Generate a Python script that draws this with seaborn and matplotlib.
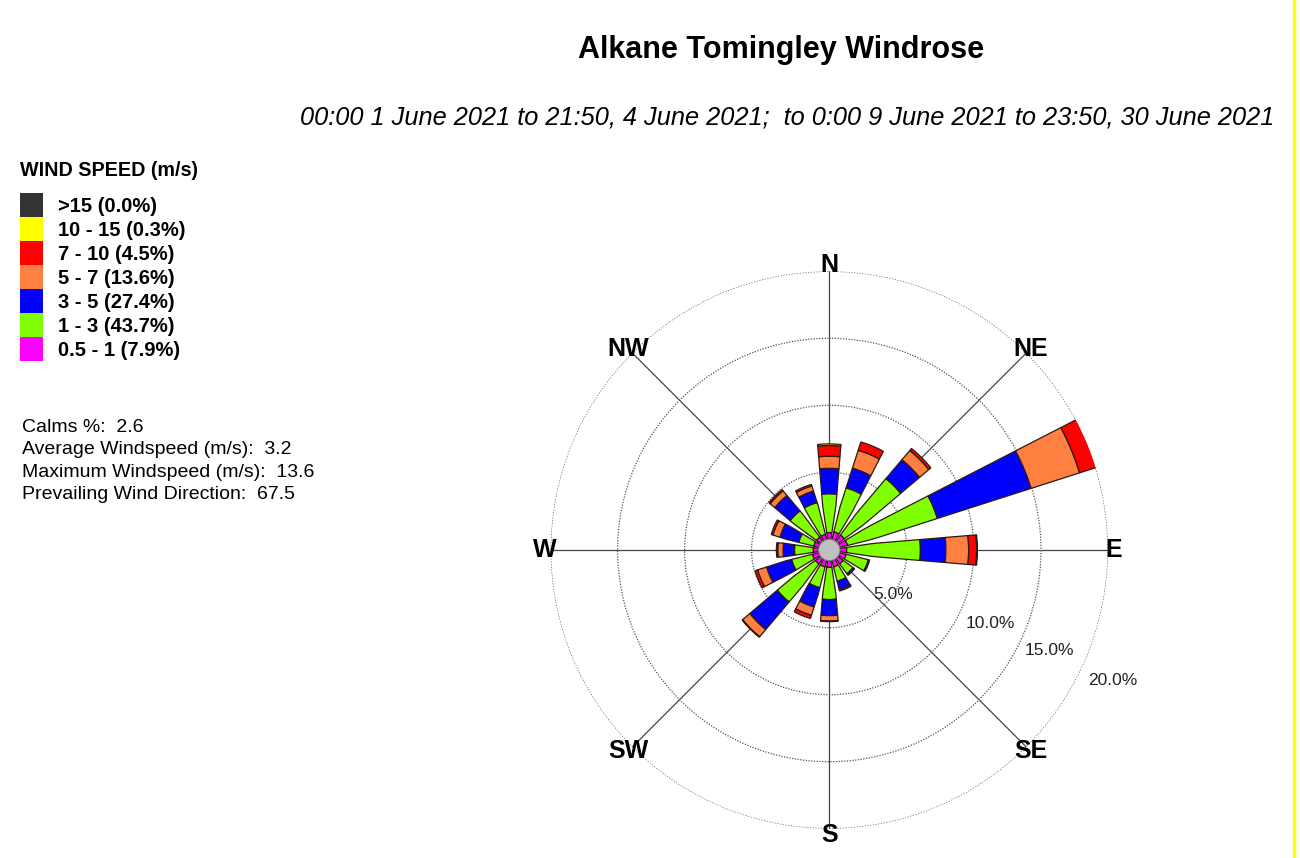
import numpy as np
import matplotlib
matplotlib.use("Agg")
import matplotlib.pyplot as plt
from matplotlib.patches import Patch, Circle
from matplotlib.lines import Line2D
import seaborn as sns

# Datos de la rosa de vientos (porcentaje de tiempo por dirección y rango de velocidad)
directions = ['N', 'NNE', 'NE', 'ENE', 'E', 'ESE', 'SE', 'SSE',
              'S', 'SSW', 'SW', 'WSW', 'W', 'WNW', 'NW', 'NNW']

spd_05_1 = [0.5, 0.6, 0.6, 0.6, 0.5, 0.5, 0.5, 0.5, 0.5, 0.5, 0.5, 0.5, 0.4, 0.4, 0.4, 0.4]
spd_1_3 = [2.9, 3.4, 5.4, 7.0, 5.5, 1.7, 0.9, 1.1, 2.4, 1.6, 3.6, 1.6, 1.4, 1.15, 2.45, 2.45]
spd_3_5 = [1.9, 1.55, 1.85, 7.35, 1.9, 0.1, 0.15, 0.65, 1.2, 1.5, 2.7, 1.95, 0.85, 1.45, 1.5, 0.9]
spd_5_7 = [0.9, 1.4, 0.9, 3.8, 1.7, 0.0, 0.0, 0.1, 0.4, 0.65, 0.7, 0.7, 0.4, 0.55, 0.45, 0.4]
spd_7_10 = [0.8, 0.65, 0.2, 1.6, 0.6, 0.0, 0.0, 0.0, 0.05, 0.25, 0.05, 0.2, 0.1, 0.13, 0.12, 0.12]
spd_10_15 = [0.12, 0.0, 0.0, 0.1, 0.05, 0.0, 0.0, 0.0, 0.0, 0.0, 0.0, 0.0, 0.0, 0.0, 0.0, 0.0]
spd_15 = [0.0] * 16

bins = ['0.5 - 1', '1 - 3', '3 - 5', '5 - 7', '7 - 10', '10 - 15', '>15']
bin_pct = [7.9, 43.7, 27.4, 13.6, 4.5, 0.3, 0.0]
bin_colors = ['#FF00FF', '#80FF00', '#0000FF', '#FF8040', '#FF0000', '#FFFF00', '#333333']
series = [spd_05_1, spd_1_3, spd_3_5, spd_5_7, spd_7_10, spd_10_15, spd_15]

ring_vals = [5, 10, 15, 20]
compass = ['N', 'NE', 'E', 'SE', 'S', 'SW', 'W', 'NW']

stats_lines = ['Calms %:  2.6',
               'Average Windspeed (m/s):  3.2',
               'Maximum Windspeed (m/s):  13.6',
               'Prevailing Wind Direction:  67.5']

title = 'Alkane Tomingley Windrose'
subtitle = '00:00 1 June 2021 to 21:50, 4 June 2021;  to 0:00 9 June 2021 to 23:50, 30 June 2021'

sns.set_theme(style='white')
plt.rcParams['font.family'] = ['Liberation Sans', 'DejaVu Sans']
plt.rcParams['text.color'] = 'black'

W, H = 1300, 858
fig = plt.figure(figsize=(W / 100, H / 100), dpi=100)
fig.patch.set_facecolor('white')

# Geometría del gráfico polar (en pixeles)
cx, cy = 829.3, 550
offset = 0.8
rmax = 20
r_px = 278.7
k = r_px / (rmax + offset)  # pixeles por punto porcentual

ax = fig.add_axes([(cx - r_px) / W, (H - cy - r_px) / H, 2 * r_px / W, 2 * r_px / H],
                  projection='polar')
ax.set_theta_zero_location('N')
ax.set_theta_direction(-1)
ax.set_ylim(-offset, rmax)
ax.set_yticks(ring_vals)
ax.set_yticklabels([])
ax.set_xticks(np.deg2rad(np.arange(0, 360, 45)))
ax.set_xticklabels([])
ax.xaxis.grid(True, color='#454545', lw=0.9, ls='-')
ax.yaxis.grid(True, color='#555555', lw=0.9, ls=(0, (1, 1.2)))
ax.spines['polar'].set_visible(False)
ax.set_axisbelow(True)
ax.set_facecolor('white')


def half_ang(r):
    # los pétalos son más anchos cerca del centro que una cuña pura
    R = (np.asarray(r) + offset) * k
    w = np.minimum(6 + 0.165 * R, 0.3 * R)
    return np.arctan(w / 2 / R)


def petal(th, r1, r2, col):
    rs = np.linspace(r1, r2, 10)
    a1, a2 = half_ang(r1), half_ang(r2)
    ths = np.concatenate([th - half_ang(rs), np.linspace(th - a2, th + a2, 8),
                          th + half_ang(rs[::-1]), np.linspace(th + a1, th - a1, 8)])
    rr = np.concatenate([rs, np.full(8, r2), rs[::-1], np.full(8, r1)])
    ax.fill(ths, rr, facecolor=col, edgecolor='#2e1a12', linewidth=0.9, zorder=3)


theta = np.deg2rad(np.arange(16) * 22.5)
bottom = np.zeros(16)
for vals, col in zip(series, bin_colors):
    for i, v in enumerate(vals):
        if v > 0:
            petal(theta[i], bottom[i], bottom[i] + v, col)
    bottom = bottom + np.array(vals)

# Círculo de calmas
ax.add_patch(Circle((0.5, 0.5), 0.5 * offset / (rmax + offset), transform=ax.transAxes,
                    facecolor='#c0c0c0', edgecolor='#7a7a7a', lw=0.8, zorder=4))

for i, lab in enumerate(compass):
    ax.text(np.deg2rad(i * 45), 20.45, lab, ha='center', va='center',
            fontsize=18, fontweight='bold', color='black', zorder=5)

ring_label_pos = [(124.5, 5.0), (114.4, 12.4), (114.6, 17.3), (114.8, 22.5)]
for v, (b, r) in zip(ring_vals, ring_label_pos):
    ax.text(np.deg2rad(b), r, f'{v:.1f}%', ha='center', va='center',
            fontsize=12.5, color='#222222', zorder=5)

# Títulos
fig.text(781 / W, 1 - 50 / H, title, ha='center', va='center',
         fontsize=22, fontweight='bold')
fig.text(787 / W, 1 - 117 / H, subtitle, ha='center', va='center',
         fontsize=18.3, fontstyle='italic')

# Leyenda
fig.text(20 / W, 1 - 170 / H, 'WIND SPEED (m/s)', ha='left', va='center',
         fontsize=14.2, fontweight='bold')
handles = [Patch(facecolor=c, edgecolor='none') for c in bin_colors[::-1]]
labels = [f'{b} ({p:.1f}%)' for b, p in zip(bins[::-1], bin_pct[::-1])]
fig.legend(handles, labels, loc='upper left', bbox_to_anchor=(20 / W, 1 - 193 / H),
           frameon=False, borderpad=0, borderaxespad=0, labelspacing=0,
           handlelength=1.13, handleheight=1.46, handletextpad=0.74,
           prop={'size': 14.5, 'weight': 'bold'})

fig.text(22 / W, 1 - 419 / H, '\n'.join(stats_lines), ha='left', va='top',
         fontsize=14, linespacing=1.42)

# Borde amarillo de la captura
fig.add_artist(Line2D([1293.5 / W, 1293.5 / W], [0, 1], color='#FFFF00', lw=2.4))

fig.savefig('out.png', dpi=100, facecolor='white')
